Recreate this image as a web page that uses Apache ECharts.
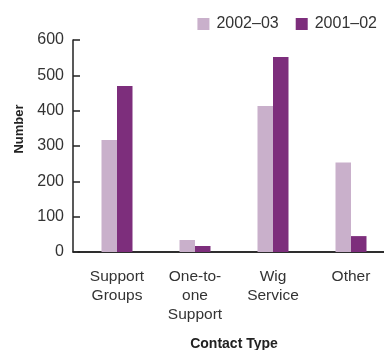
<!DOCTYPE html>
<html>
<head>
<meta charset="utf-8">
<script src="https://cdn.jsdelivr.net/npm/echarts@6/dist/echarts.min.js"></script>
<style>
  html, body { margin: 0; padding: 0; background: #fff; }
  #main { width: 384px; height: 350px; }
</style>
</head>
<body>
<div id="main"></div>
<script>
  const categories = ['Support\nGroups', 'One-to-\none\nSupport', 'Wig\nService', 'Other']
  const seriesNames = ['2002\u201303', '2001\u201302']
  const values2002 = [317, 34, 413, 253]
  const values2001 = [470, 17, 552, 45]
  const yTicks = [0, 100, 200, 300, 400, 500, 600]

  let myechart = echarts.init(document.getElementById('main'))
  let option = {
    animation: false,
    textStyle: { fontFamily: 'Liberation Sans, Arial, sans-serif' },
    legend: {
      top: 11,
      right: 2,
      itemWidth: 12,
      itemHeight: 12,
      itemGap: 17,
      icon: 'rect',
      textStyle: { fontSize: 16, color: '#333', padding: [0, 0, 0, 2] },
      data: seriesNames
    },
    grid: [
      { left: 78, width: 312, top: 40, height: 212, outerBoundsMode: 'none', containLabel: false },
      // only to carry the base line back to the y axis
      { left: 73, width: 317, top: 40, height: 212, outerBoundsMode: 'none', containLabel: false }
    ],
    xAxis: [{
      type: 'category',
      data: categories,
      name: 'Contact Type',
      nameLocation: 'middle',
      nameGap: 85,
      nameTextStyle: { fontFamily: 'Liberation Sans Narrow, Arial Narrow, sans-serif', fontWeight: 'bold', fontSize: 14, color: '#222' },
      axisLine: { lineStyle: { color: '#222', width: 1.5 } },
      axisTick: { show: false },
      axisLabel: { fontSize: 15.5, color: '#333', margin: 15, lineHeight: 19 }
    }, {
      type: 'value',
      gridIndex: 1,
      axisLine: { show: true, lineStyle: { color: '#222', width: 1.5 } },
      axisTick: { show: false },
      axisLabel: { show: false },
      splitLine: { show: false }
    }],
    yAxis: [{
      type: 'value',
      min: yTicks[0],
      max: yTicks[yTicks.length - 1],
      interval: 100,
      offset: 5,
      name: 'Number',
      nameLocation: 'middle',
      nameGap: 46,
      nameTextStyle: { fontFamily: 'Liberation Sans Narrow, Arial Narrow, sans-serif', fontWeight: 'bold', fontSize: 13, color: '#222', padding: [0, 0, 0, 34] },
      axisLine: { show: true, onZero: false, lineStyle: { color: '#222', width: 1.5 } },
      axisTick: { show: true, inside: true, length: 7, lineStyle: { color: '#222', width: 1.5 } },
      axisLabel: { fontSize: 16, color: '#333', margin: 9 },
      splitLine: { show: false }
    }, {
      type: 'value',
      gridIndex: 1,
      show: false
    }],
    series: [
      {
        name: seriesNames[0],
        type: 'bar',
        data: values2002,
        barWidth: 15.5,
        barGap: '0%',
        itemStyle: { color: '#c9b0cb' }
      },
      {
        name: seriesNames[1],
        type: 'bar',
        data: values2001,
        barWidth: 15.5,
        barGap: '0%',
        itemStyle: { color: '#7d2e7c' }
      }
    ]
  }
  myechart.setOption(option)
</script>
</body>
</html>
